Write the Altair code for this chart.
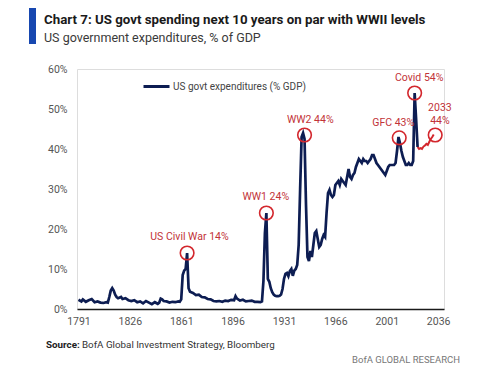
import altair as alt
import pandas as pd

# ---------------- data ----------------
hist_years = [1791, 1793, 1794, 1796, 1798, 1800, 1802, 1804, 1806, 1808, 1810, 1811,
              1812, 1813, 1814, 1815, 1816, 1817, 1818, 1820, 1821, 1823, 1825, 1827,
              1829, 1831, 1833, 1835, 1837, 1839, 1841, 1843, 1845, 1846, 1847, 1848,
              1849, 1851, 1853, 1855, 1857, 1859, 1860, 1861, 1862, 1863, 1864, 1865,
              1866, 1867, 1869, 1871, 1873, 1875, 1877, 1879, 1881, 1883, 1885, 1887,
              1889, 1891, 1893, 1895, 1897, 1898, 1899, 1901, 1903, 1905, 1907, 1909,
              1911, 1913, 1915, 1916, 1917, 1918, 1919, 1920, 1921, 1922, 1923, 1924,
              1925, 1926, 1927, 1928, 1929, 1930, 1931, 1932, 1933, 1934, 1935, 1936,
              1937, 1938, 1939, 1940, 1941, 1942, 1943, 1944, 1945, 1946, 1947, 1948,
              1949, 1950, 1951, 1952, 1953, 1954, 1955, 1956, 1957, 1958, 1959, 1960,
              1961, 1962, 1963, 1964, 1965, 1966, 1967, 1968, 1969, 1970, 1971, 1972,
              1973, 1974, 1975, 1976, 1977, 1978, 1979, 1980, 1981, 1982, 1983, 1984,
              1985, 1986, 1987, 1988, 1989, 1990, 1991, 1992, 1993, 1994, 1995, 1996,
              1997, 1998, 1999, 2000, 2001, 2002, 2003, 2004, 2005, 2006, 2007, 2008,
              2009, 2010, 2011, 2012, 2013, 2014, 2015, 2016, 2017, 2018, 2019, 2020,
              2021, 2022]
hist_values = [2.3, 1.9, 2.4, 1.8, 2.2, 2.5, 1.7, 1.9, 1.6, 1.5, 1.7, 1.6,
               3.0, 4.6, 5.2, 4.6, 3.6, 3.0, 2.7, 3.0, 2.5, 2.7, 2.2, 2.0,
               2.2, 1.7, 1.9, 1.4, 2.0, 1.6, 1.2, 1.7, 1.3, 1.6, 2.6, 2.4,
               2.0, 1.9, 1.6, 1.8, 1.7, 1.9, 1.8, 2.4, 8.5, 9.6, 10.0, 14.0,
               5.2, 4.3, 4.0, 3.5, 3.6, 3.0, 2.9, 2.5, 2.4, 2.0, 1.9, 2.0,
               1.8, 2.1, 2.0, 2.3, 2.2, 3.2, 2.6, 2.1, 2.3, 1.9, 2.0, 2.1,
               1.8, 1.8, 1.7, 1.9, 7.0, 19.0, 24.0, 7.5, 6.8, 5.2, 4.2, 3.6,
               3.3, 3.2, 3.2, 3.3, 3.6, 5.0, 7.5, 8.8, 9.0, 8.2, 9.5, 10.0,
               8.3, 9.6, 10.0, 11.0, 16.0, 30.0, 43.0, 44.0, 42.5, 26.0, 13.0, 12.0,
               14.5, 13.0, 16.0, 19.0, 19.5, 17.5, 15.5, 16.0, 17.5, 18.5, 18.0, 24.0,
               29.0, 29.8, 28.5, 28.0, 28.5, 31.0, 31.5, 32.0, 31.0, 32.5, 32.0, 31.5,
               31.0, 33.0, 35.0, 33.0, 32.5, 33.5, 34.0, 35.5, 36.5, 37.5, 37.0, 36.5,
               37.5, 37.0, 37.0, 36.5, 37.0, 37.5, 38.5, 38.5, 37.5, 36.5, 36.0, 35.5,
               35.0, 34.5, 34.0, 33.5, 34.5, 35.5, 36.0, 36.0, 36.0, 36.0, 36.5, 39.5,
               43.0, 41.5, 39.5, 38.0, 37.0, 36.0, 36.0, 36.5, 36.0, 36.0, 37.0, 54.0,
               47.5, 40.5]

fcst_years = [2022, 2023, 2024, 2025, 2026, 2027, 2028, 2029, 2030, 2031, 2032, 2033]
fcst_values = [40.5, 40.0, 40.2, 40.0, 40.6, 40.9, 41.3, 41.0, 41.8, 42.5, 43.0, 43.6]

circle_years = [1865, 1919, 1945, 2009.5, 2020, 2034]
circle_values = [14.0, 24.0, 43.5, 42.8, 54.0, 43.5]

label_texts = ["US Civil War 14%", "WW1 24%", "WW2 44%", "GFC 43%", "Covid 54%", "2033\n44%"]
label_years = [1866.6, 1918.6, 1948.9, 2005.4, 2023.1, 2037.2]
label_values = [18.0, 28.0, 47.25, 46.5, 57.75, 50.3]

x_ticks = [1791, 1826, 1861, 1896, 1931, 1966, 2001, 2036]
y_ticks = [0, 10, 20, 30, 40, 50, 60]

series_name = "US govt expenditures (% GDP)"
title_text = "Chart 7: US govt spending next 10 years on par with WWII levels"
subtitle_text = "US government expenditures, % of GDP"
source_label = "Source:"
source_text = "BofA Global Investment Strategy, Bloomberg"
footer_text = "BofA GLOBAL RESEARCH"

hist = pd.DataFrame({"year": hist_years, "value": hist_values, "series": series_name})
fcst = pd.DataFrame({"year": fcst_years, "value": fcst_values})
circles = pd.DataFrame({"year": circle_years, "value": circle_values})
labels = pd.DataFrame({"year": label_years, "value": label_values, "text": label_texts})

NAVY = "#0d1d52"
RED = "#d3272d"
LABEL_RED = "#c23338"
FONT = "Roboto, 'Liberation Sans', sans-serif"

x_scale = alt.Scale(domain=[1790, 2040], nice=False, zero=False)
y_scale = alt.Scale(domain=[0, 60], nice=False, zero=True)

x_axis = alt.Axis(values=x_ticks, format="d", title=None, grid=False, ticks=False,
                  domainColor="#1a1a1a", domainWidth=1.5, labelColor="#555555",
                  labelFont=FONT, labelFontSize=10.5, labelPadding=7, labelOverlap=False)
y_axis = alt.Axis(values=y_ticks, labelExpr="datum.value + '%'", title=None,
                  grid=False, ticks=False, domain=False, labelColor="#555555",
                  labelFont=FONT, labelFontSize=10.5, labelPadding=10, labelOverlap=False,
                  tickCount=7)


def xe():
    return alt.X("year:Q", scale=x_scale, axis=x_axis)


def ye():
    return alt.Y("value:Q", scale=y_scale, axis=y_axis)


hist_line = alt.Chart(hist).mark_line(strokeWidth=2.7, interpolate="linear").encode(
    x=xe(),
    y=ye(),
    color=alt.Color("series:N", scale=alt.Scale(range=[NAVY]),
                    legend=alt.Legend(orient="none", legendX=65, legendY=3, title=None,
                                      symbolType="stroke", symbolSize=676,
                                      symbolStrokeWidth=3, labelOffset=2, padding=0,
                                      labelFont=FONT, labelFontSize=10,
                                      labelColor="#444444")),
)

fcst_line = alt.Chart(fcst).mark_line(strokeWidth=2, color=RED).encode(x=xe(), y=ye())

circle_marks = alt.Chart(circles).mark_point(shape="circle", size=185, filled=False,
                                             color=RED, strokeWidth=1.6, opacity=1).encode(
    x=xe(), y=ye())

label_marks = alt.Chart(labels).mark_text(color=LABEL_RED, font=FONT, fontSize=10.5,
                                          align="center", baseline="middle",
                                          lineBreak="\n", lineHeight=13).encode(
    x=xe(), y=ye(), text="text:N")

# decorations and texts outside the plot area
deco = pd.DataFrame({"k": [0]})
blue_bar = alt.Chart(deco).mark_rule(color="#1747b0", strokeWidth=7).encode(
    x=alt.value(-44.5), y=alt.value(-63), y2=alt.value(-25))
title_mark = alt.Chart(deco).mark_text(text=title_text, font=FONT, fontSize=13.3,
                                       fontWeight="bold", color="#1a1a1a", align="left",
                                       baseline="alphabetic").encode(
    x=alt.value(-33), y=alt.value(-45))
subtitle_mark = alt.Chart(deco).mark_text(text=subtitle_text, font=FONT, fontSize=12.5,
                                          color="#3a3a3a", align="left",
                                          baseline="alphabetic").encode(
    x=alt.value(-33), y=alt.value(-27.5))
src_bold = alt.Chart(deco).mark_text(text=source_label, font=FONT, fontSize=9.8,
                                     fontWeight="bold", color="#222222", align="left",
                                     baseline="middle").encode(
    x=alt.value(-31), y=alt.value(276))
src_text = alt.Chart(deco).mark_text(text=source_text, font=FONT, fontSize=9.8,
                                     color="#333333", align="left",
                                     baseline="middle").encode(
    x=alt.value(5), y=alt.value(276))
footer = alt.Chart(deco).mark_text(text=footer_text, font=FONT, fontSize=9.5,
                                   color="#777777", align="right", baseline="middle").encode(
    x=alt.value(383), y=alt.value(291))

chart = alt.layer(hist_line, fcst_line, circle_marks, label_marks,
                  blue_bar, title_mark, subtitle_mark, src_bold, src_text, footer).properties(
    width=367, height=240,
    autosize=alt.AutoSizeParams(type="none"),
    padding={"left": 69, "top": 61, "right": 48, "bottom": 58},
).configure_view(stroke=None).configure(background="white")

chart.save("out.html", embed_options={"renderer": "svg", "actions": False})
